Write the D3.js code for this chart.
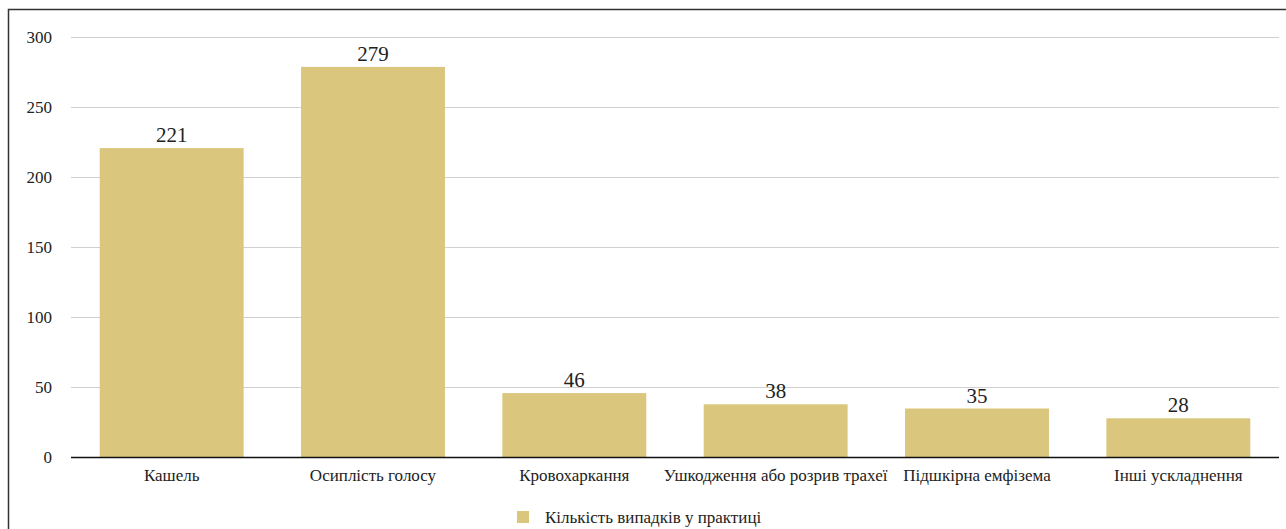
<!DOCTYPE html>
<html lang="uk">
<head>
<meta charset="UTF-8">
<title>Кількість випадків у практиці</title>
<script src="https://d3js.org/d3.v7.min.js"></script>
<style>
    html, body {
        margin: 0;
        padding: 0;
        background: #fff;
        overflow: hidden;
    }
    #chart text {
        font-family: "Liberation Serif", "Times New Roman", serif;
        fill: #222;
    }
    .grid line {
        stroke: #d0d0d0;
        stroke-width: 1;
    }
</style>
</head>
<body>
<svg id="chart" width="1286" height="529"></svg>
<script>
    // data
    const categories = ["Кашель", "Осиплість голосу", "Кровохаркання", "Ушкодження або розрив трахеї", "Підшкірна емфізема", "Інші ускладнення"];
    const values = [221, 279, 46, 38, 35, 28];
    const yTicks = [0, 50, 100, 150, 200, 250, 300];
    const seriesName = "Кількість випадків у практиці";

    const svg = d3.select("#chart");
    const barColor = "#dbc67d";

    // outer frame (runs off the right and bottom of the picture)
    svg.append("rect")
        .attr("x", 8.5).attr("y", 9.5)
        .attr("width", 1300).attr("height", 540)
        .attr("fill", "none")
        .attr("stroke", "#333")
        .attr("stroke-width", 1.5);

    const plotLeft = 71, plotRight = 1279, plotTop = 37.5, plotBottom = 457.5;

    const x = d3.scaleBand()
        .domain(categories)
        .range([plotLeft, plotRight])
        .paddingInner(0.285)
        .paddingOuter(0.1425);

    const y = d3.scaleLinear()
        .domain([0, 300])
        .range([plotBottom, plotTop]);

    // gridlines
    svg.append("g")
        .attr("class", "grid")
        .selectAll("line")
        .data(yTicks.filter(d => d > 0))
        .join("line")
        .attr("x1", plotLeft).attr("x2", plotRight)
        .attr("y1", d => y(d)).attr("y2", d => y(d));

    // y tick labels
    svg.append("g")
        .selectAll("text")
        .data(yTicks)
        .join("text")
        .attr("x", 52)
        .attr("y", d => y(d))
        .attr("dy", "0.33em")
        .attr("text-anchor", "end")
        .style("font-size", "17px")
        .text(d => d);

    // bars
    svg.append("g")
        .selectAll("rect")
        .data(values)
        .join("rect")
        .attr("x", (d, i) => x(categories[i]))
        .attr("y", d => y(d))
        .attr("width", x.bandwidth())
        .attr("height", d => y(0) - y(d))
        .attr("fill", barColor);

    // value labels
    svg.append("g")
        .selectAll("text")
        .data(values)
        .join("text")
        .attr("x", (d, i) => x(categories[i]) + x.bandwidth() / 2)
        .attr("y", d => y(d) - 6)
        .attr("text-anchor", "middle")
        .style("font-size", "21px")
        .text(d => d);

    // baseline
    svg.append("line")
        .attr("x1", plotLeft).attr("x2", plotRight)
        .attr("y1", y(0)).attr("y2", y(0))
        .attr("stroke", "#111")
        .attr("stroke-width", 1.6);

    // category labels
    svg.append("g")
        .selectAll("text")
        .data(categories)
        .join("text")
        .attr("x", d => x(d) + x.bandwidth() / 2)
        .attr("y", 481)
        .attr("text-anchor", "middle")
        .style("font-size", "17px")
        .text(d => d);

    // legend
    const legend = svg.append("g").attr("transform", "translate(517,511)");
    legend.append("rect")
        .attr("width", 12).attr("height", 12)
        .attr("fill", barColor);
    legend.append("text")
        .attr("x", 28).attr("y", 12)
        .style("font-size", "17px")
        .text(seriesName);
</script>
</body>
</html>
